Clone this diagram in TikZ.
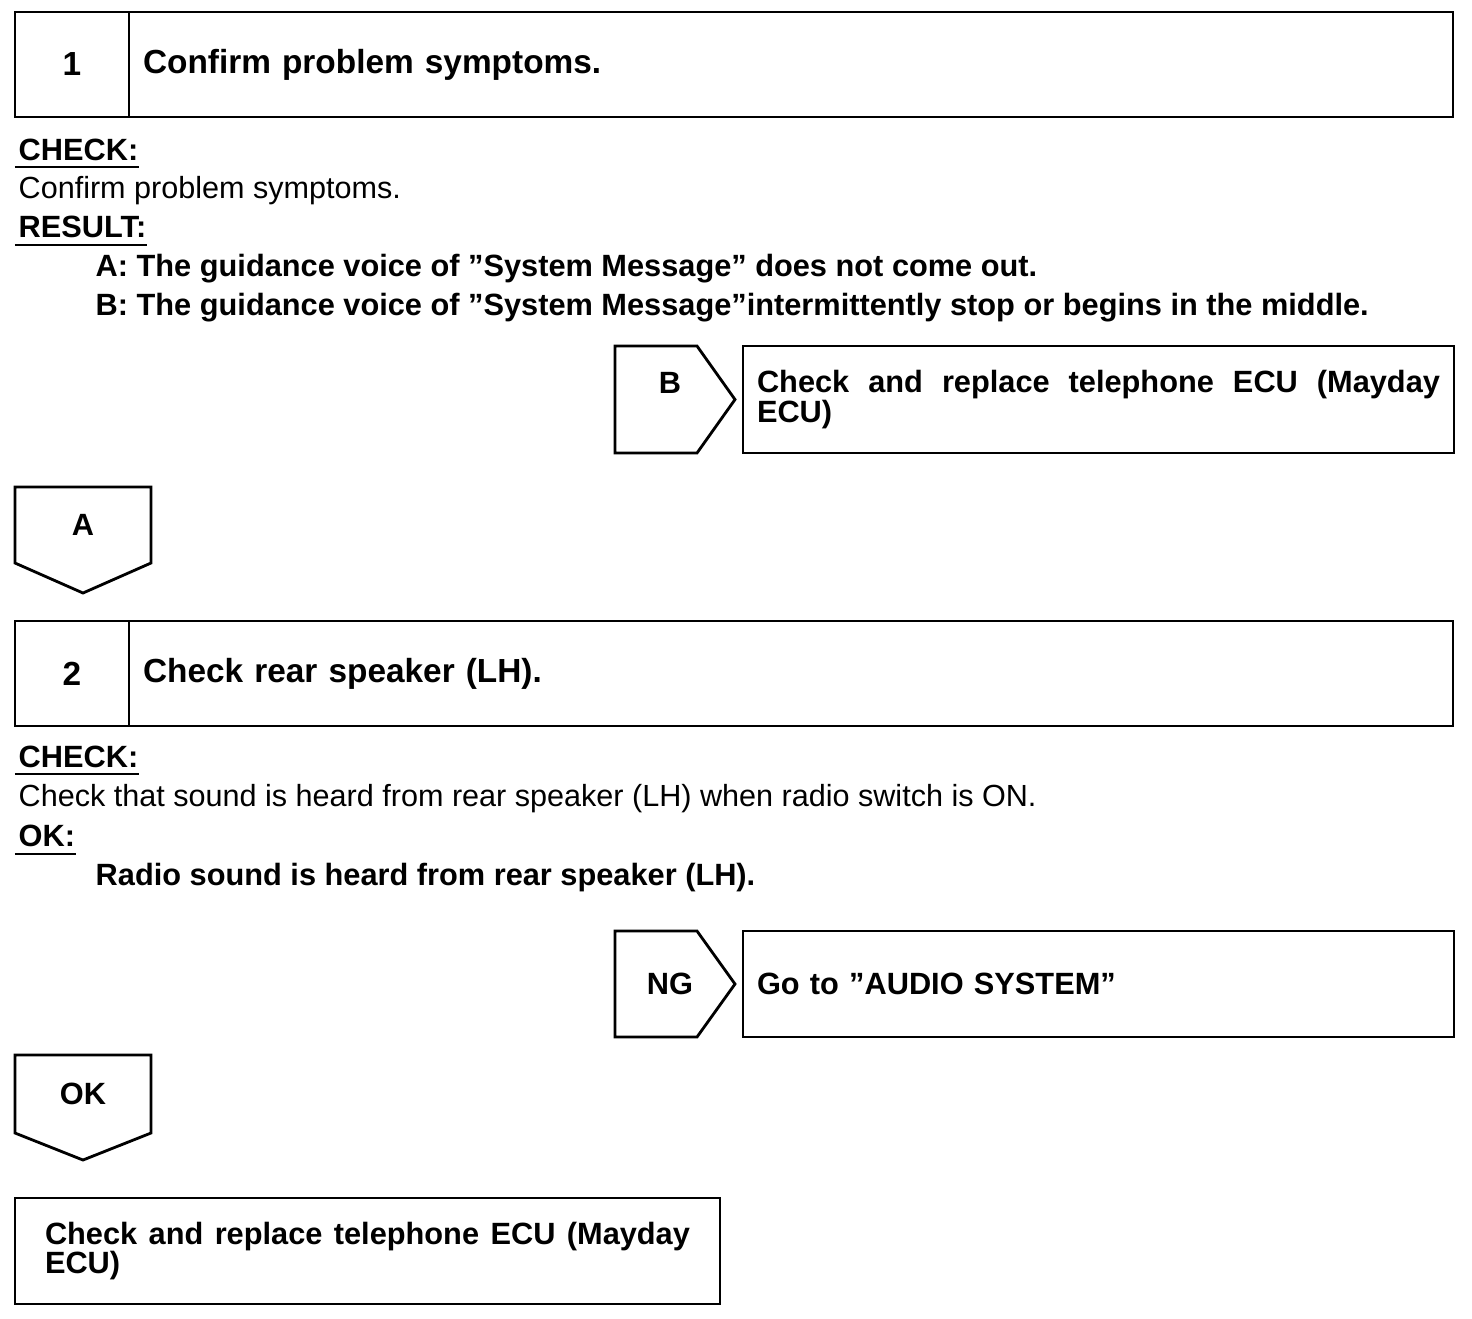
\documentclass[tikz,border=0pt]{standalone}
\usepackage{fontspec}
\setmainfont{Liberation Sans}
\usetikzlibrary{positioning}

\begin{document}
\begin{tikzpicture}[
    every node/.style={font=\fontsize{8.7}{8.5}\selectfont},
    stepnum/.style={draw, line width=0.8pt, outer sep=0pt, minimum width=1.14cm,
minimum height=1.05cm, font=\fontsize{9.5}{9.5}\selectfont\bfseries},
    steptitle/.style={draw, line width=0.8pt, outer sep=0pt, minimum width=13.24cm,
minimum height=1.05cm, text width=12.96cm, inner xsep=0.14cm, align=left,
font=\fontsize{9.5}{9.5}\selectfont\bfseries},
    head/.style={anchor=base west, inner sep=0pt, font=\fontsize{8.75}{8.75}\selectfont\bfseries},
    body/.style={anchor=base west, inner sep=0pt},
    result/.style={anchor=base west, inner sep=0pt, font=\fontsize{8.75}{8.75}\selectfont\bfseries},
    uline/.style={line width=0.5pt},
    tagbody/.style={inner sep=0pt, outer sep=0pt},
    tagline/.style={line width=0.8pt, line join=miter},
    tagtext/.style={inner sep=0pt, font=\fontsize{8.75}{8.75}\selectfont\bfseries},
    outbox/.style={draw, line width=0.8pt, outer sep=0pt, anchor=north west,
align=justify, font=\fontsize{8.75}{8.5}\selectfont\bfseries}]
\useasboundingbox (0,0) rectangle (14.72,-13.18);

% step 1
\node[stepnum, anchor=north west] (num1) at (0.15,-0.12) {1};
\node[steptitle, right=0pt of num1] (title1) {Confirm problem symptoms.};
\node[head] (check1) at (0.18,-1.60) {CHECK:};
\draw[uline] ([xshift=-0.03cm,yshift=-0.07cm]check1.base west) -- ([yshift=-0.07cm]check1.base east);
\node[body] (confirm) at (0.18,-1.98) {Confirm problem symptoms.};
\node[head] (result1) at (0.18,-2.37) {RESULT:};
\draw[uline] ([xshift=-0.03cm,yshift=-0.08cm]result1.base west) -- ([yshift=-0.08cm]result1.base east);
\node[result] (resA) at (0.95,-2.76) {A: The guidance voice of ''System Message'' does not come out.};
\node[result] (resB) at (0.95,-3.15) {B: The guidance voice of ''System Message''intermittently stop or begins in the middle.};

% branch B
\node[tagbody, minimum width=0.82cm, minimum height=1.07cm, anchor=north west] (tagB) at (6.15,-3.46) {};
\draw[tagline] (tagB.north west) -- (tagB.north east) -- ([xshift=0.38cm]tagB.east)
  -- (tagB.south east) -- (tagB.south west) -- cycle;
\node[tagtext] (tagBtext) at ([xshift=0.14cm,yshift=0.17cm]tagB.center) {B};
\node[outbox, minimum width=7.10cm, minimum height=1.07cm, text width=6.83cm,
inner xsep=0.14cm] (ecuB) at (7.43,-3.46)
{Check and replace telephone ECU (Mayday\linebreak ECU)};

% branch A
\node[tagbody, minimum width=1.36cm, minimum height=0.76cm, anchor=north west] (tagA) at (0.15,-4.87) {};
\draw[tagline] (tagA.south west) -- (tagA.north west) -- (tagA.north east)
  -- (tagA.south east) -- ([yshift=-0.30cm]tagA.south) -- cycle;
\node[tagtext] (tagAtext) at (tagA.center) {A};

% step 2
\node[stepnum, anchor=north west] (num2) at (0.15,-6.21) {2};
\node[steptitle, right=0pt of num2] (title2) {Check rear speaker (LH).};
\node[head] (check2) at (0.18,-7.67) {CHECK:};
\draw[uline] ([xshift=-0.03cm,yshift=-0.07cm]check2.base west) -- ([yshift=-0.07cm]check2.base east);
\node[body] (sound) at (0.18,-8.06) {Check that sound is heard from rear speaker (LH) when radio switch is ON.};
\node[head] (ok2) at (0.18,-8.46) {OK:};
\draw[uline] ([xshift=-0.03cm,yshift=-0.08cm]ok2.base west) -- ([yshift=-0.08cm]ok2.base east);
\node[result] (okres) at (0.95,-8.85) {Radio sound is heard from rear speaker (LH).};

% branch NG
\node[tagbody, minimum width=0.82cm, minimum height=1.06cm, anchor=north west] (tagNG) at (6.15,-9.31) {};
\draw[tagline] (tagNG.north west) -- (tagNG.north east) -- ([xshift=0.38cm]tagNG.east)
  -- (tagNG.south east) -- (tagNG.south west) -- cycle;
\node[tagtext] (tagNGtext) at ([xshift=0.14cm]tagNG.center) {NG};
\node[outbox, minimum width=7.10cm, minimum height=1.06cm, text width=6.83cm,
inner xsep=0.14cm, align=left] (audio) at (7.43,-9.31) {Go to ''AUDIO SYSTEM''};

% branch OK
\node[tagbody, minimum width=1.36cm, minimum height=0.78cm, anchor=north west] (tagOK) at (0.15,-10.55) {};
\draw[tagline] (tagOK.south west) -- (tagOK.north west) -- (tagOK.north east)
  -- (tagOK.south east) -- ([yshift=-0.27cm]tagOK.south) -- cycle;
\node[tagtext] (tagOKtext) at (tagOK.center) {OK};
\node[outbox, minimum width=7.05cm, minimum height=1.06cm, text width=6.45cm,
inner xsep=0.30cm] (ecuOK) at (0.15,-11.98)
{Check and replace telephone ECU (Mayday\linebreak ECU)};
\end{tikzpicture}
\end{document}
